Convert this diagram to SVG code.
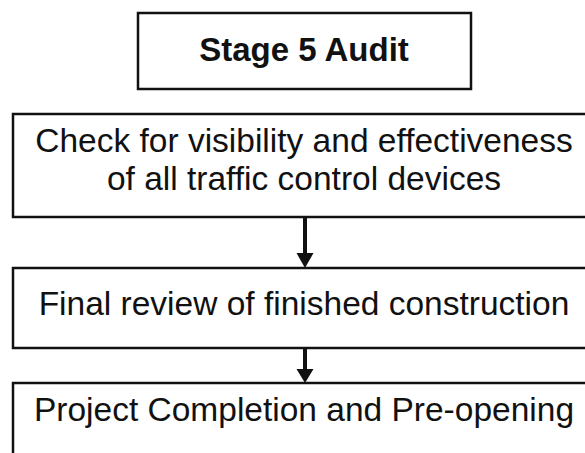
<svg xmlns="http://www.w3.org/2000/svg" width="585" height="453" viewBox="0 0 585 453">
<defs>
<style>
.box{fill:#fff;stroke:#111;stroke-width:2.5}
.t{font-family:"Liberation Sans",Arial,sans-serif;font-size:33.5px;fill:#111;text-anchor:middle}
.b{font-weight:bold;font-size:33px}
.c{stroke:#111;stroke-width:4;fill:none}
.h{fill:#111}
</style>
</defs>
<rect width="585" height="453" fill="#fff"/>
<g id="title">
<rect class="box" x="138" y="13" width="333" height="76"/>
<text class="t b" x="304" y="61">Stage 5 Audit</text>
</g>
<g id="check">
<rect class="box" x="13" y="114" width="590" height="103"/>
<text class="t" x="304" y="152">Check for visibility and effectiveness</text>
<text class="t" x="304" y="190">of all traffic control devices</text>
</g>
<g id="review">
<rect class="box" x="13" y="268" width="590" height="80"/>
<text class="t" x="304" y="315">Final review of finished construction</text>
</g>
<g id="completion">
<rect class="box" x="13" y="383" width="590" height="100"/>
<text class="t" x="304" y="421">Project Completion and Pre-opening</text>
</g>
<g id="connectors">
<line class="c" x1="305" y1="217" x2="305" y2="254"/>
<polygon class="h" points="296.5,253 313.5,253 305,268"/>
<line class="c" x1="305" y1="348" x2="305" y2="370"/>
<polygon class="h" points="296.5,369 313.5,369 305,383"/>
</g>
</svg>
